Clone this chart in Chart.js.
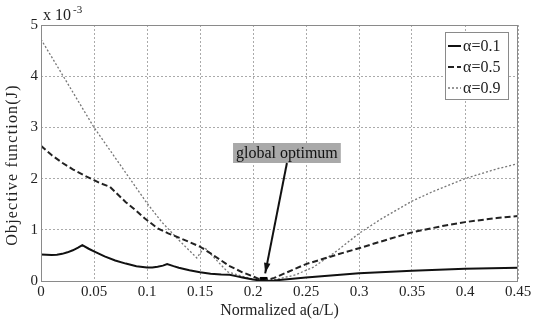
<!DOCTYPE html>
<html>
<head>
<meta charset="utf-8">
<script src="https://cdn.jsdelivr.net/npm/chart.js@4.4.0/dist/chart.umd.min.js"></script>
<style>
  html, body { margin: 0; padding: 0; background: #fff; }
  #wrap { width: 542px; height: 320px; }
</style>
</head>
<body>
<div id="wrap"><canvas id="chart"></canvas></div>
<script>
// values in units of 1e-3
const xTicks = [0, 0.05, 0.1, 0.15, 0.2, 0.25, 0.3, 0.35, 0.4, 0.45];
const yTicks = [0, 1, 2, 3, 4, 5];

const a1x = [0, 0.01, 0.015, 0.02, 0.025, 0.03, 0.035, 0.039, 0.045, 0.05, 0.06, 0.07, 0.08, 0.09, 0.1, 0.105, 0.11, 0.115, 0.119, 0.125, 0.13, 0.14, 0.15, 0.16, 0.17, 0.178, 0.185, 0.19, 0.2, 0.21, 0.22, 0.25, 0.3, 0.35, 0.4, 0.45];
const a1y = [0.52, 0.51, 0.515, 0.53, 0.56, 0.6, 0.65, 0.7, 0.63, 0.58, 0.48, 0.4, 0.34, 0.29, 0.265, 0.265, 0.28, 0.3, 0.33, 0.29, 0.26, 0.21, 0.17, 0.14, 0.125, 0.12, 0.09, 0.07, 0.03, 0.0, 0.01, 0.07, 0.15, 0.2, 0.24, 0.26];

const a5x = [0, 0.01, 0.02, 0.03, 0.04, 0.05, 0.056, 0.065, 0.07, 0.08, 0.09, 0.098, 0.11, 0.12, 0.131, 0.14, 0.15, 0.16, 0.17, 0.178, 0.19, 0.2, 0.21, 0.22, 0.25, 0.28, 0.3, 0.33, 0.35, 0.38, 0.4, 0.43, 0.45];
const a5y = [2.64, 2.46, 2.31, 2.18, 2.07, 1.97, 1.91, 1.84, 1.74, 1.54, 1.37, 1.22, 1.03, 0.93, 0.84, 0.76, 0.67, 0.54, 0.4, 0.29, 0.17, 0.09, 0.0, 0.06, 0.33, 0.52, 0.64, 0.83, 0.95, 1.08, 1.15, 1.23, 1.27];

const a9x = [0, 0.021, 0.05, 0.1, 0.114, 0.13, 0.147, 0.154, 0.165, 0.176, 0.19, 0.2, 0.21, 0.22, 0.24, 0.257, 0.28, 0.3, 0.32, 0.35, 0.37, 0.4, 0.43, 0.45];
const a9y = [4.72, 4.0, 3.0, 1.52, 1.15, 0.8, 0.45, 0.66, 0.42, 0.18, 0.09, 0.04, 0.0, 0.02, 0.12, 0.27, 0.6, 0.93, 1.2, 1.56, 1.75, 2.0, 2.19, 2.29];

const optimum = [{ x: 0.21, y: 0 }];

const pts = (xs, ys) => xs.map((x, i) => ({ x: x, y: ys[i] }));

const serif = "'Liberation Serif', 'DejaVu Serif', serif";

const framePlugin = {
  id: "frame",
  afterDraw(chart) {
    const { ctx, chartArea: a, scales } = chart;
    ctx.save();
    ctx.strokeStyle = "#8a8a8a";
    ctx.lineWidth = 1;
    ctx.strokeRect(a.left + 0.5, a.top + 0.5, a.right - a.left - 1, a.bottom - a.top);

    // exponent label
    ctx.fillStyle = "#222";
    ctx.font = "16px " + serif;
    ctx.textBaseline = "alphabetic";
    ctx.fillText("x 10", a.left + 2, a.top - 5);
    ctx.font = "11px " + serif;
    ctx.fillText("-3", a.left + 32, a.top - 12);

    // y title
    ctx.save();
    ctx.translate(13, (a.top + a.bottom) / 2 + 12);
    ctx.rotate(-Math.PI / 2);
    ctx.font = "16px " + serif;
    ctx.letterSpacing = "1.2px";
    ctx.textAlign = "center";
    ctx.textBaseline = "middle";
    ctx.fillText("Objective function(J)", 0, 0);
    ctx.restore();

    // annotation
    const xs = scales.x, ys = scales.y;
    ctx.font = "16px " + serif;
    const label = "global optimum";
    const w = ctx.measureText(label).width + 6;
    const cx = xs.getPixelForValue(0.232), cy = ys.getPixelForValue(2.5);
    ctx.fillStyle = "#a9a9a9";
    ctx.fillRect(cx - w / 2, cy - 10, w, 20);
    ctx.fillStyle = "#111";
    ctx.textAlign = "center";
    ctx.textBaseline = "middle";
    ctx.fillText(label, cx, cy + 1);

    const tx = xs.getPixelForValue(0.2115), ty = ys.getPixelForValue(0.15);
    const sx = cx, sy = cy + 10;
    ctx.strokeStyle = "#111";
    ctx.lineWidth = 2;
    ctx.beginPath();
    ctx.moveTo(sx, sy);
    ctx.lineTo(tx, ty);
    ctx.stroke();
    const ang = Math.atan2(ty - sy, tx - sx);
    ctx.fillStyle = "#111";
    ctx.beginPath();
    ctx.moveTo(tx, ty);
    ctx.lineTo(tx - 11 * Math.cos(ang - 0.3), ty - 11 * Math.sin(ang - 0.3));
    ctx.lineTo(tx - 11 * Math.cos(ang + 0.3), ty - 11 * Math.sin(ang + 0.3));
    ctx.closePath();
    ctx.fill();

    // legend box
    const lx = 445, ly = 32, lw = 63, lh = 67;
    ctx.fillStyle = "#fff";
    ctx.fillRect(lx, ly, lw, lh);
    ctx.strokeStyle = "#8a8a8a";
    ctx.lineWidth = 1;
    ctx.strokeRect(lx + 0.5, ly + 0.5, lw, lh);
    ctx.textAlign = "left";
    ctx.font = "16px " + serif;
    chart.data.datasets.slice(0, 3).forEach((ds, i) => {
      const yy = ly + 14 + i * 21;
      ctx.strokeStyle = ds.borderColor;
      ctx.lineWidth = ds.borderWidth;
      ctx.setLineDash(ds.borderDash || []);
      ctx.beginPath();
      ctx.moveTo(lx + 3, yy);
      ctx.lineTo(lx + 16, yy);
      ctx.stroke();
      ctx.setLineDash([]);
      ctx.fillStyle = "#222";
      ctx.fillText(ds.label, lx + 18, yy + 1);
    });
    ctx.restore();
  }
};

new Chart(document.getElementById("chart"), {
  type: "line",
  data: {
    datasets: [
      { label: "α=0.1", data: pts(a1x, a1y), borderColor: "#111", borderWidth: 2, tension: 0 },
      { label: "α=0.5", data: pts(a5x, a5y), borderColor: "#222", borderWidth: 2, borderDash: [6, 3], tension: 0 },
      { label: "α=0.9", data: pts(a9x, a9y), borderColor: "#777", borderWidth: 1.3, borderDash: [2, 2], tension: 0 },
      { label: "optimum", data: optimum, showLine: false, pointStyle: "rect", pointRadius: 5, backgroundColor: "#000", borderColor: "#000" }
    ]
  },
  options: {
    responsive: true,
    maintainAspectRatio: false,
    animation: false,
    elements: { point: { radius: 0 } },
    layout: { padding: { top: 25, right: 24, left: 0, bottom: 0 } },
    plugins: { legend: { display: false }, tooltip: { enabled: false } },
    scales: {
      x: {
        type: "linear",
        min: 0,
        max: 0.45,
        afterBuildTicks: s => { s.ticks = xTicks.map(v => ({ value: v })); },
        afterFit: s => { s.height = 39; },
        ticks: {
          padding: 2,
          color: "#222",
          font: { family: serif, size: 15 },
          callback: v => String(Number(v.toFixed(2)))
        },
        grid: { color: "#aaa", borderDash: [2, 2], drawTicks: false, tickLength: 0 },
        border: { display: false, dash: [2, 2] },
        title: { display: true, text: "Normalized a(a/L)", color: "#222", font: { family: serif, size: 16 }, padding: { top: 0, bottom: 0 } }
      },
      y: {
        min: 0,
        max: 5,
        afterBuildTicks: s => { s.ticks = yTicks.map(v => ({ value: v })); },
        afterFit: s => { s.width = 41; },
        ticks: { padding: 3, color: "#222", font: { family: serif, size: 15 } },
        grid: { color: "#aaa", borderDash: [2, 2], drawTicks: false, tickLength: 0 },
        border: { display: false, dash: [2, 2] }
      }
    }
  },
  plugins: [framePlugin]
});
</script>
</body>
</html>
